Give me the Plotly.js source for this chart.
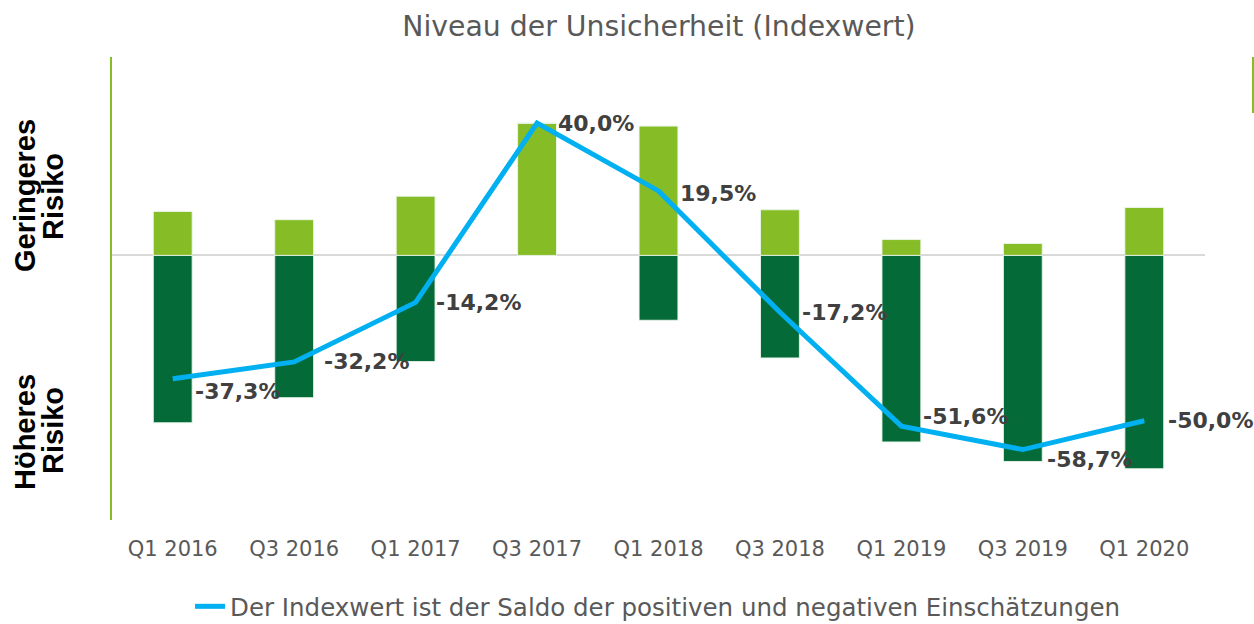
<!DOCTYPE html>
<html>
<head>
<meta charset="utf-8">
<script src="https://cdn.plot.ly/plotly-3.0.1.min.js"></script>
<style>
html,body{margin:0;padding:0;background:#fff;}
#chart{width:1254px;height:624px;}
</style>
</head>
<body>
<div id="chart"></div>
<script>
var categories = ["Q1 2016","Q3 2016","Q1 2017","Q3 2017","Q1 2018","Q3 2018","Q1 2019","Q3 2019","Q1 2020"];
var positiveShare = [13.3, 10.8, 17.9, 40.0, 39.1, 13.8, 4.8, 3.6, 14.5];
var negativeShare = [-50.6, -43.0, -32.1, 0, -19.6, -31.0, -56.4, -62.3, -64.5];
var indexValues = [-37.3, -32.2, -14.2, 40.0, 19.5, -17.2, -51.6, -58.7, -50.0];
var indexLabels = ["-37,3%","-32,2%","-14,2%","40,0%","19,5%","-17,2%","-51,6%","-58,7%","-50,0%"];
var legendName = "Der Indexwert ist der Saldo der positiven und negativen Einschätzungen";

var labelShiftX = [20, 28, 18, 19, 19, 20, 20, 22, 22];
var labelShiftY = [-13, 0, 0, 0, -3, 0, 10, -10, 0];

var barEdge = {color: 'rgba(235,245,235,0.9)', width: 1};
var traces = [
  {type:'bar', x:categories, y:positiveShare, marker:{color:'#86BC25', line:barEdge}, width:0.32, showlegend:false, hoverinfo:'skip'},
  {type:'bar', x:categories, y:negativeShare, marker:{color:'#046A38', line:barEdge}, width:0.32, showlegend:false, hoverinfo:'skip'},
  {type:'scatter', mode:'lines', x:categories, y:indexValues, name:legendName,
   line:{color:'#00B0F0', width:5}}
];

var annotations = indexLabels.map(function(t,i){
  return {x:categories[i], y:indexValues[i], xref:'x', yref:'y', text:t, showarrow:false,
    xanchor:'left', yanchor:'middle', xshift:labelShiftX[i], yshift:labelShiftY[i],
    font:{family:'DejaVu Sans', size:22, color:'#404040', weight:'bold'}};
});
var sideFont = {family:'Liberation Sans', size:29, color:'#000000', weight:'bold'};
function sideLabel(text, xpx, ypx){
  return {xref:'paper', yref:'paper', x:(xpx-112)/1093, y:(520-ypx)/463, text:'<b>'+text+'</b>',
    showarrow:false, textangle:-90, xanchor:'center', yanchor:'middle', font:sideFont};
}
annotations.push(sideLabel('Geringeres', 25, 196));
annotations.push(sideLabel('Risiko', 53, 197));
annotations.push(sideLabel('Höheres', 25, 432));
annotations.push(sideLabel('Risiko', 53, 431));

var layout = {
  width:1254, height:624,
  margin:{l:112, r:49, t:57, b:104, autoexpand:false},
  paper_bgcolor:'#ffffff', plot_bgcolor:'#ffffff',
  barmode:'relative',
  title:{text:'Niveau der Unsicherheit (Indexwert)', x:0.5255, xanchor:'center', y:0.958, yanchor:'middle',
    font:{family:'DejaVu Sans', size:28.3, color:'#595959'}},
  xaxis:{type:'category', range:[-0.5, 8.5], autorange:false, showgrid:false, showline:false, ticks:'', ticklabelstandoff:14,
    tickfont:{family:'DejaVu Sans', size:21, color:'#595959'}, fixedrange:true},
  yaxis:{range:[-80,60], autorange:false, showgrid:false, showticklabels:false, ticks:'',
    showline:true, linecolor:'#86BC25', linewidth:2,
    zeroline:true, zerolinecolor:'#D9D9D9', zerolinewidth:2, fixedrange:true},
  showlegend:true,
  legend:{orientation:'h', x:0.0714, xanchor:'left', y:-0.138, yanchor:'top',
    font:{family:'DejaVu Sans', size:24.5, color:'#595959'}, bgcolor:'rgba(0,0,0,0)'},
  annotations:annotations,
  shapes:[{type:'line', xref:'paper', yref:'paper', x0:1.0439, x1:1.0439, y0:1.0, y1:0.879,
    line:{color:'#86BC25', width:2}}]
};

Plotly.newPlot('chart', traces, layout, {displayModeBar:false, staticPlot:true});
</script>
</body>
</html>
